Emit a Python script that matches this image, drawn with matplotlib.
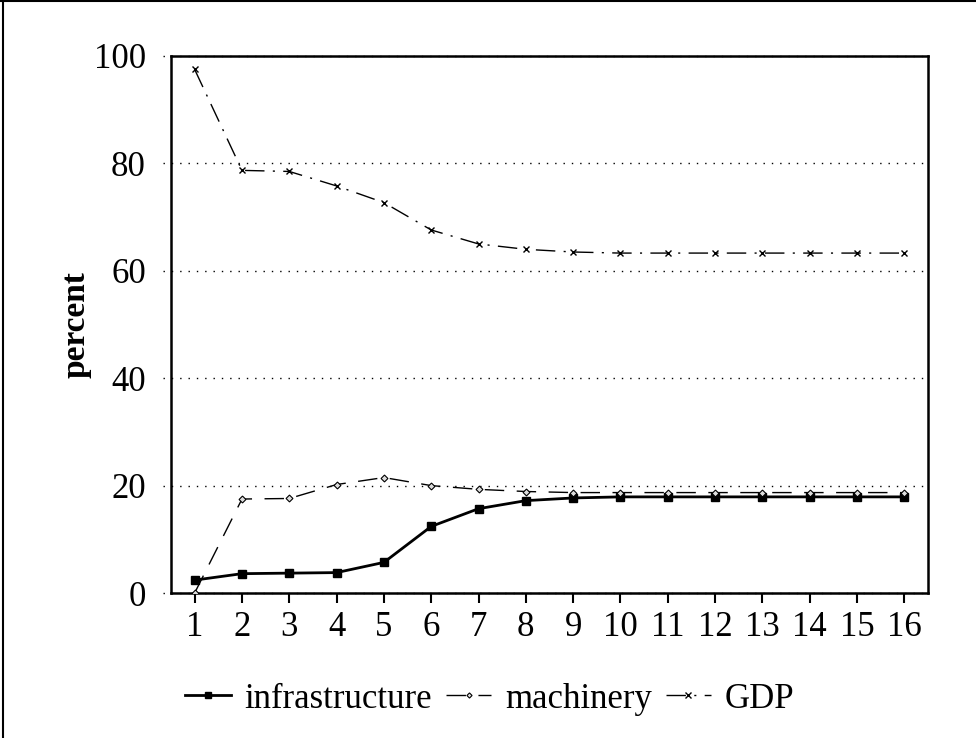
import matplotlib
matplotlib.use("Agg")
import matplotlib.pyplot as plt
from matplotlib.lines import Line2D

periods = list(range(1, 17))
infrastructure = [2.4, 3.6, 3.7, 3.8, 5.7, 12.4, 15.7, 17.2, 17.7, 17.9, 17.9, 17.9, 17.9, 17.9, 17.9, 17.9]
machinery = [0.0, 17.5, 17.6, 20.2, 21.5, 20.0, 19.3, 18.9, 18.7, 18.7, 18.7, 18.7, 18.7, 18.7, 18.7, 18.7]
gdp = [97.5, 78.7, 78.5, 75.8, 72.7, 67.6, 65.0, 64.0, 63.5, 63.3, 63.3, 63.3, 63.3, 63.3, 63.3, 63.3]
yticks = [0, 20, 40, 60, 80, 100]

plt.rcParams['font.family'] = ['Liberation Serif', 'DejaVu Serif']

fig = plt.figure(figsize=(9.76, 7.38), dpi=100)
ax = fig.add_axes([171/976, 1-593/738, (928-171)/976, (593-56)/738])

ax.plot(periods, infrastructure, color='black', lw=2.0, marker='s', ms=5.5,
        label='infrastructure', zorder=4)
ax.plot(periods, machinery, color='black', lw=1.0, ls=(0, (14, 9)), marker='D', ms=3.5,
        mfc='#dddddd', mec='black', mew=0.8, label='machinery', zorder=4)
ax.plot(periods, gdp, color='black', lw=1.0, ls=(0, (14, 6, 1.5, 6)), marker='x', ms=5,
        mew=1.0, label='GDP', zorder=4)

ax.set_xlim(0.5, 16.5)
ax.set_ylim(0, 100)
ax.set_xticks(periods)
ax.set_yticks(yticks)
ax.tick_params(axis='x', direction='out', length=7, width=1.5, labelsize=25, pad=6)
ax.tick_params(axis='y', length=0, labelsize=25, pad=18)

for v in yticks:
    ax.plot([-0.011, 1], [v, v], transform=ax.get_yaxis_transform(), color='black',
            lw=1.0, ls=(0, (1, 5)), clip_on=False, zorder=1)

for s in ax.spines.values():
    s.set_linewidth(1.8)
    s.set_zorder(3)

ax.set_ylabel('percent', fontsize=24, fontweight='bold', labelpad=2)

leg = fig.legend(loc='center', bbox_to_anchor=(0.502, 1-699/738), ncol=3, frameon=False,
                 fontsize=25, handlelength=1.3, handletextpad=0.4, columnspacing=0.4,
                 markerscale=0.75)

fig.add_artist(Line2D([0, 1], [0.999, 0.999], transform=fig.transFigure, color='black', lw=1.5))
fig.add_artist(Line2D([0.0035, 0.0035], [0, 1], transform=fig.transFigure, color='black', lw=1.5))

fig.savefig('out.png', dpi=100)
